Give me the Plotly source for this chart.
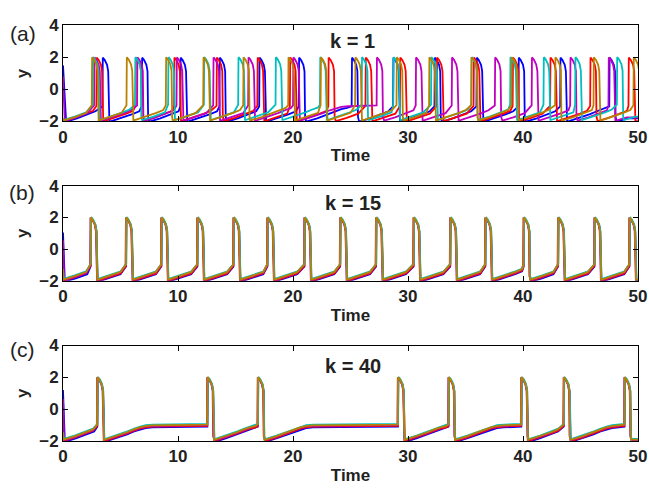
import plotly.graph_objects as go
from plotly.subplots import make_subplots

# ---------------- data ----------------
TRACE_NAMES = ["blue", "red", "magenta", "cyan", "olive"]
TRACE_COLORS = ["#0000FF", "#FF0000", "#BF00BF", "#00BFBF", "#B88200"]

# panel (a), k = 1 : spike (upstroke) times per oscillator
A_SPIKES = {
    "blue":    [3.43, 6.85, 10.2, 13.6, 17.06, 20.5, 25.1, 28.7, 32.3, 35.95, 39.6, 43.23, 47.5],
    "red":     [2.9, 6.3, 9.66, 13.35, 16.9, 19.73, 23.07, 26.3, 29.3, 32.5, 35.7, 39.1, 42.36, 45.84, 49.17],
    "magenta": [2.7, 6.44, 9.87, 13.06, 16.1, 20.0, 27.27, 30.67, 33.8, 37.55, 40.75, 44.1, 47.43],
    "cyan":    [2.59, 6.27, 9.14, 12.25, 15.23, 18.48, 22.34, 25.97, 28.72, 32.0, 35.5, 38.88, 41.78, 44.53, 48.16],
    "olive":   [2.5, 5.52, 8.94, 12.19, 15.67, 19.58, 22.4, 25.4, 29.0, 31.83, 35.5, 39.0, 42.79, 46.13, 49.6],
}
# panel (b), k = 15 : common spike times
B_SPIKES = [2.38, 5.46, 8.53, 11.66, 14.8, 17.75, 20.97, 24.08, 27.2, 30.46,
            33.65, 36.7, 40.03, 43.03, 46.19, 49.23]
# panel (c), k = 40 : common spike times
C_SPIKES = [2.96, 12.53, 16.92, 29.1, 33.5, 39.83, 43.52, 48.8]

# initial values and first reset time of each oscillator
INIT_Y = [1.5, -1.9, 0.8, -1.85, -1.8]
INIT_RESET = [0.22, 0.02, 0.1, 0.02, 0.02]
# small per-oscillator level offsets / time shifts (band width in b, c)
LEVEL_OFFSET = [-0.1, -0.05, 0.0, 0.08, 0.03]
TIME_SHIFT = [0.02, 0.03, -0.02, 0.04, 0.0]

# shape of one spike (time after upstroke, value)
SPIKE_DT = [0.03, 0.2, 0.4, 0.5, 0.55, 0.6]
SPIKE_Y = [2.0, 1.85, 1.55, 1.15, -1.7, -1.95]
# recovery after reset (time after reset, value), then plateau
RAMP_DT = [0.05, 1.0, 2.0, 2.6, 3.1, 3.6, 4.2]
RAMP_Y = [-1.95, -1.74, -1.48, -1.3, -1.17, -1.09, -1.05]
PRE_SPIKE_Y = -1.0

PANEL_TITLES = ["k = 1", "k = 15", "k = 40"]
PANEL_LETTERS = ["(a)", "(b)", "(c)"]
X_TICKS = [0, 10, 20, 30, 40, 50]
Y_TICKS = [-2, 0, 2, 4]


def build(spikes, y0, reset0, off, shift, t_end=50.0):
    ts, ys = [0.0], [y0]
    s = reset0
    for r in [v + shift for v in spikes] + [None]:
        stop = t_end if r is None else r
        for dt, yv in zip(RAMP_DT, RAMP_Y):
            if s + dt < stop - 0.12:
                ts.append(s + dt)
                ys.append(yv + off)
        if r is None:
            ts.append(t_end)
            ys.append(ys[-1])
            break
        ts.append(r)
        ys.append(PRE_SPIKE_Y + off)
        for dt, yv in zip(SPIKE_DT, SPIKE_Y):
            ts.append(r + dt)
            ys.append(yv + off * 0.3)
        s = r + SPIKE_DT[-1]
    return ts, ys


fig = make_subplots(rows=3, cols=1)
FONT = "Liberation Sans, Arial, sans-serif"
LW = 1.8

for i, name in enumerate(TRACE_NAMES):
    t, y = build(A_SPIKES[name], INIT_Y[i], INIT_RESET[i], LEVEL_OFFSET[i] * 0.6, 0.0)
    fig.add_trace(go.Scatter(x=t, y=y, mode="lines", line=dict(color=TRACE_COLORS[i], width=LW),
                             showlegend=False, hoverinfo="skip"), row=1, col=1)
for i, name in enumerate(TRACE_NAMES):
    t, y = build(B_SPIKES, INIT_Y[i] * 0.7, INIT_RESET[i] * 0.5, LEVEL_OFFSET[i], TIME_SHIFT[i])
    fig.add_trace(go.Scatter(x=t, y=y, mode="lines", line=dict(color=TRACE_COLORS[i], width=LW),
                             showlegend=False, hoverinfo="skip"), row=2, col=1)
for i, name in enumerate(TRACE_NAMES):
    t, y = build(C_SPIKES, INIT_Y[i] * 0.8, INIT_RESET[i] * 0.5, LEVEL_OFFSET[i], TIME_SHIFT[i])
    fig.add_trace(go.Scatter(x=t, y=y, mode="lines", line=dict(color=TRACE_COLORS[i], width=LW),
                             showlegend=False, hoverinfo="skip"), row=3, col=1)

H = 493.0
domains = [(17, 117), (184, 282.7), (350, 449.3)]
title_y = [3.02, 2.92, 2.69]
letter_px = [(23, 25), (22, 191), (22, 354)]

for k in range(3):
    top, bot = domains[k]
    xa = "xaxis" if k == 0 else f"xaxis{k+1}"
    ya = "yaxis" if k == 0 else f"yaxis{k+1}"
    fig.layout[ya].update(
        domain=[1 - bot / H, 1 - top / H], range=[-2, 4], tickvals=Y_TICKS,
        showline=True, linecolor="black", linewidth=1, mirror="allticks",
        ticks="inside", ticklen=5, tickcolor="black", showgrid=False, zeroline=False,
        tickfont=dict(family=FONT, size=17, color="#222", weight="bold"),
        title=dict(text="y", font=dict(family=FONT, size=17, color="#222", weight="bold"), standoff=6),
    )
    fig.layout[xa].update(
        range=[0, 50], tickvals=X_TICKS,
        showline=True, linecolor="black", linewidth=1, mirror="allticks",
        ticks="inside", ticklen=5, tickcolor="black", showgrid=False, zeroline=False,
        tickfont=dict(family=FONT, size=17, color="#222", weight="bold"),
        title=dict(text="Time", font=dict(family=FONT, size=17, color="#222", weight="bold"), standoff=3),
    )
    xr = "x" if k == 0 else f"x{k+1}"
    yr = "y" if k == 0 else f"y{k+1}"
    fig.add_annotation(x=25.2, y=title_y[k], xref=xr, yref=yr, text=f"<b>{PANEL_TITLES[k]}</b>",
                       showarrow=False, xanchor="center", yanchor="middle",
                       font=dict(family=FONT, size=20, color="#222"))
    px, py = letter_px[k]
    fig.add_annotation(x=(px - 63) / 575.0, y=1 - py / H, xref="paper", yref="paper",
                       text=PANEL_LETTERS[k], showarrow=False, xanchor="center", yanchor="middle",
                       font=dict(family=FONT, size=21, color="#222"))

fig.update_layout(
    width=649, height=493, margin=dict(l=63, r=11, t=0, b=0),
    plot_bgcolor="white", paper_bgcolor="white",
)
fig.write_html("out.html")
